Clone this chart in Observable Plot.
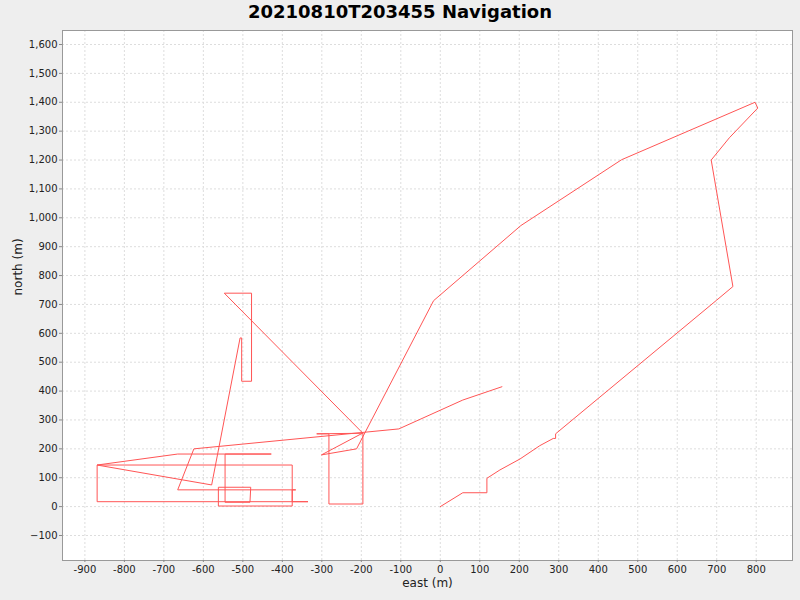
<!DOCTYPE html>
<html>
<head>
<meta charset="utf-8">
<script src="https://cdn.jsdelivr.net/npm/d3@7"></script>
<script src="https://cdn.jsdelivr.net/npm/@observablehq/plot@0.6"></script>
<style>
  html, body { margin: 0; padding: 0; background: #eeeeee; }
  #wrap { width: 800px; height: 600px; background: #eeeeee; font-family: "DejaVu Sans", sans-serif; }
  #title { height: 24px; line-height: 24px; text-align: center; font-weight: bold; font-size: 18px; color: #000; }
</style>
</head>
<body>
<div id="wrap">
  <div id="title">20210810T203455 Navigation</div>
  <div id="chart"></div>
</div>
<script>
const chartTitle = "20210810T203455 Navigation";
const xLabel = "east (m)";
const yLabel = "north (m)";
const xTicks = [-900,-800,-700,-600,-500,-400,-300,-200,-100,0,100,200,300,400,500,600,700,800];
const yTicks = [-100,0,100,200,300,400,500,600,700,800,900,1000,1100,1200,1300,1400,1500,1600];

const east = [0,57,118,118,151,202,252,286,292,292,700,741,686,732,804,797,459,204,-17,
  -212,-301,-196,-196,-282,-282,-313,-196,-547,-478,-478,-503,-503,-507,-579,-869,
  -665,-428,-545,-545,-482,-480,-562,-562,-375,-375,-869,-869,-335,-375,-375,-366,
  -665,-624,-105,57,156];
const north = [0,48,48,98,127,165,211,236,236,252,715,762,1200,1277,1380,1400,1201,973,713,
  200,179,255,9,9,252,252,254,739,739,434,434,584,584,75,144,
  182,182,182,15,15,67,67,2,2,144,144,17,17,17,58,58,
  58,200,269,369,415];

const track = east.map((e, i) => ({east: e, north: north[i]}));

const chart = Plot.plot({
  width: 800,
  height: 576,
  marginLeft: 62,
  marginRight: 8,
  marginTop: 6,
  marginBottom: 40,
  style: {background: "#eeeeee", fontFamily: "DejaVu Sans, sans-serif", fontSize: "10px"},
  x: {domain: [-956.7, 891.9]},
  y: {domain: [-186.6, 1648.5]},
  marks: [
    Plot.frame({fill: "white"}),
    Plot.gridX(xTicks, {stroke: "#dddddd", strokeOpacity: 1, strokeDasharray: "2,2"}),
    Plot.gridY(yTicks, {stroke: "#dddddd", strokeOpacity: 1, strokeDasharray: "2,2"}),
    Plot.line(track, {x: "east", y: "north", stroke: "#ff5555", strokeWidth: 1}),
    Plot.frame({stroke: "#999999"}),
    Plot.axisX(xTicks, {tickSize: 2, tickPadding: 3, stroke: "#888", color: "#222", fontSize: 10, label: null, tickFormat: d => String(d)}),
    Plot.axisY(yTicks, {tickSize: 3, tickPadding: 2, stroke: "#888", color: "#222", fontSize: 10, label: null, tickFormat: d3.format(",")}),
    Plot.text([xLabel], {frameAnchor: "bottom", dy: 26, text: d => d, fontSize: 12, fill: "#222"}),
    Plot.text([yLabel], {frameAnchor: "left", dx: -44, rotate: -90, text: d => d, fontSize: 12, fill: "#222"})
  ]
});
document.getElementById("chart").appendChild(chart);
</script>
</body>
</html>
